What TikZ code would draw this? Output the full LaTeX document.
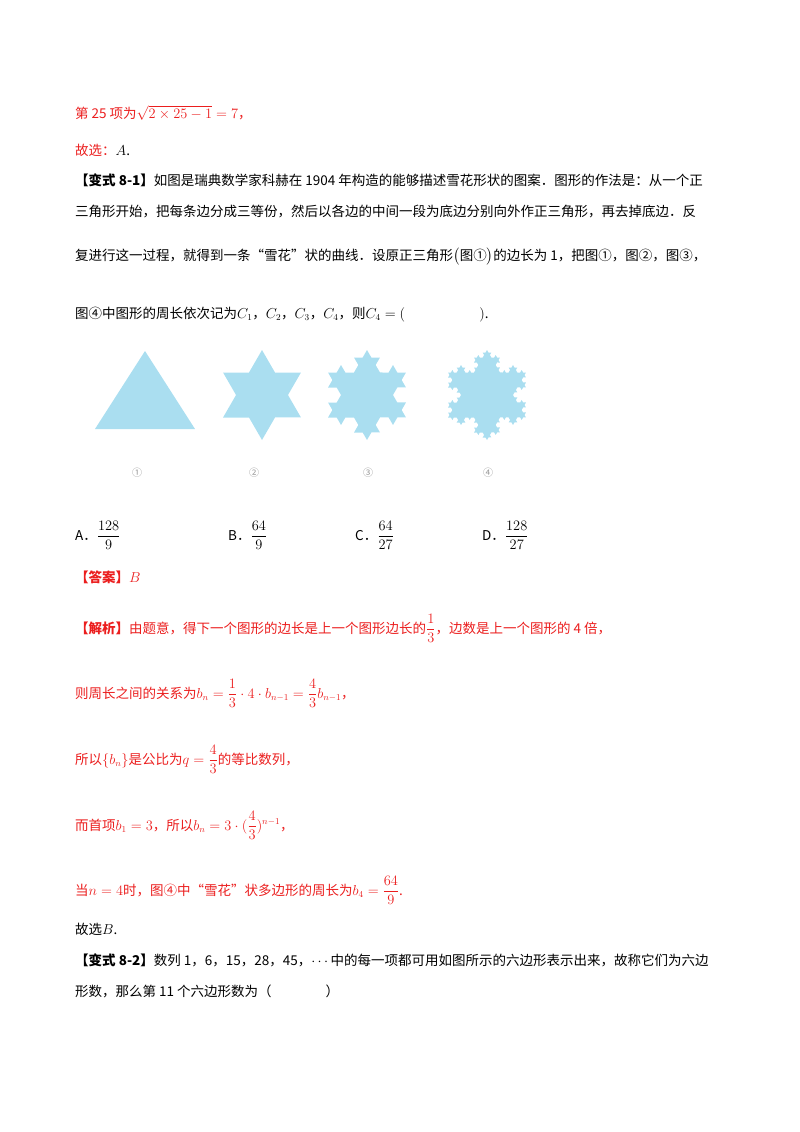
\documentclass[tikz,border=0pt]{standalone}
\usepackage{fontspec}
\usepackage{amsmath}
\setmainfont{Liberation Serif}
\newfontfamily\cjk{Noto Sans CJK SC}
\usetikzlibrary{decorations.fractals}
\definecolor{rd}{RGB}{235,30,30}
\definecolor{snow}{RGB}{170,222,240}
\definecolor{lab}{RGB}{150,150,150}
\begin{document}
\begin{tikzpicture}[x=1pt,y=-1pt,
  t/.style={anchor=base west,inner sep=0pt,font=\fontsize{13.5}{16}\selectfont\cjk},
  r/.style={t,text=rd},
  flake/.style={fill=snow},
  lb/.style={anchor=center,text=lab,font=\fontsize{10}{12}\selectfont\cjk}]
\useasboundingbox (0,0) rectangle (800,1132);
\node[r] (l1) at (75,118) {第 25 项为$\sqrt{2\times25-1}=7$，};
\node[r] (l2) at (75,155) {故选：\textcolor{black}{$A$.}};
\node[t] (l3) at (75,185) {\textbf{【变式 8-1】}如图是瑞典数学家科赫在 1904 年构造的能够描述雪花形状的图案．图形的作法是：从一个正};
\node[t] (l4) at (75,216) {三角形开始，把每条边分成三等份，然后以各边的中间一段为底边分别向外作正三角形，再去掉底边．反};
\node[t] (l5) at (75,260) {复进行这一过程，就得到一条“雪花”状的曲线．设原正三角形$\big($图①$\big)$的边长为 1，把图①，图②，图③，};
\node[t] (l6) at (75,318) {图④中图形的周长依次记为$C_1$，$C_2$，$C_3$，$C_4$，则$C_4=($\hspace{5.5em}$)$.};
% snowflakes
\fill[flake] (145,351) -- (195,429) -- (95,429) -- cycle;
\begin{scope}[shift={(262,395)}]
\fill[flake] decorate[decoration=Koch snowflake]{(90:45) -- (210:45) -- (330:45) -- cycle};
\end{scope}
\begin{scope}[shift={(367,395)}]
\fill[flake] decorate[decoration=Koch snowflake]{decorate[decoration=Koch snowflake]{(90:45) -- (210:45) -- (330:45) -- cycle}};
\end{scope}
\begin{scope}[shift={(487,395)}]
\fill[flake] decorate[decoration=Koch snowflake]{decorate[decoration=Koch snowflake]{decorate[decoration=Koch snowflake]{(90:45) -- (210:45) -- (330:45) -- cycle}}};
\end{scope}
\node[lb] (f1) at (137,473) {①};
\node[lb] (f2) at (254,473) {②};
\node[lb] (f3) at (368,473) {③};
\node[lb] (f4) at (488,473) {④};
% options
\node[t] (oa) at (75,540) {A．$\dfrac{128}{9}$};
\node[t] (ob) at (228,540) {B．$\dfrac{64}{9}$};
\node[t] (oc) at (355,540) {C．$\dfrac{64}{27}$};
\node[t] (od) at (482,540) {D．$\dfrac{128}{27}$};
\node[r] (ans) at (75,582) {\textbf{【答案】}$B$};
\node[r] (s1) at (75,633) {\textbf{【解析】}由题意，得下一个图形的边长是上一个图形边长的$\dfrac{1}{3}$，边数是上一个图形的 4 倍，};
\node[r] (s2) at (75,698) {则周长之间的关系为$b_n=\dfrac13\cdot4\cdot b_{n-1}=\dfrac43b_{n-1}$，};
\node[r] (s3) at (75,764) {所以$\{b_n\}$是公比为$q=\dfrac43$的等比数列，};
\node[r] (s4) at (75,830) {而首项$b_1=3$，所以$b_n=3\cdot(\dfrac43)^{n-1}$，};
\node[r] (s5) at (75,895) {当$n=4$时，图④中“雪花”状多边形的周长为$b_4=\dfrac{64}{9}$.};
\node[t] (g) at (75,934) {故选$B$.};
\node[t] (v1) at (75,965) {\textbf{【变式 8-2】}数列 1，6，15，28，45，$\cdots$中的每一项都可用如图所示的六边形表示出来，故称它们为六边};
\node[t] (v2) at (75,996) {形数，那么第 11 个六边形数为（\hspace{4em}）};
\end{tikzpicture}
\end{document}
